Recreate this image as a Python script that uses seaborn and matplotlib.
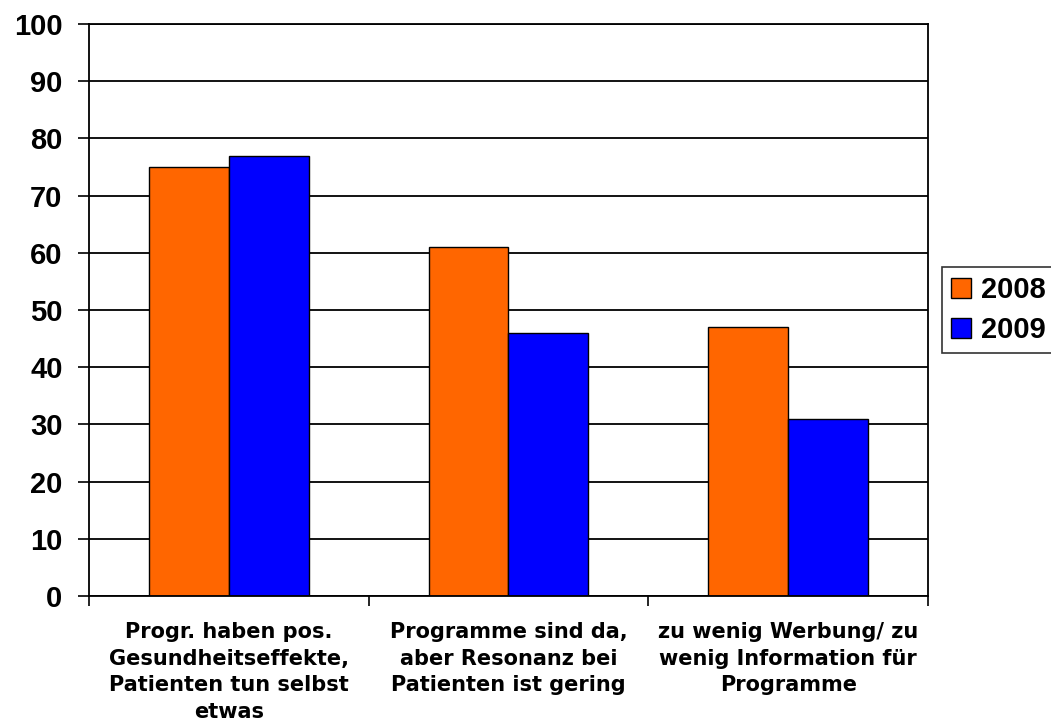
import matplotlib
matplotlib.use("Agg")
import matplotlib.pyplot as plt
import seaborn as sns
import pandas as pd
from matplotlib.ticker import FixedLocator

# Survey answers, share in percent per year
categories = [
    "Progr. haben pos.\nGesundheitseffekte,\nPatienten tun selbst\netwas",
    "Programme sind da,\naber Resonanz bei\nPatienten ist gering",
    "zu wenig Werbung/ zu\nwenig Information für\nProgramme",
]
years = ["2008", "2009"]
values_2008 = [75, 61, 47]
values_2009 = [77, 46, 31]
y_ticks = [0, 10, 20, 30, 40, 50, 60, 70, 80, 90, 100]

colors = {"2008": "#FF6600", "2009": "#0000FF"}

df = pd.DataFrame({
    "Kategorie": categories * 2,
    "Jahr": [years[0]] * len(categories) + [years[1]] * len(categories),
    "Wert": values_2008 + values_2009,
})

sns.set_theme(style="white")
plt.rcParams["font.family"] = ["Liberation Sans", "DejaVu Sans"]
plt.rcParams["text.color"] = "black"
plt.rcParams["xtick.color"] = "black"
plt.rcParams["ytick.color"] = "black"

W, H = 1051, 724
fig = plt.figure(figsize=(W / 100, H / 100), dpi=100)
ax = fig.add_axes([89 / W, 1 - 596 / H, (928 - 89) / W, (596 - 24) / H])

sns.barplot(
    data=df, x="Kategorie", y="Wert", hue="Jahr", order=categories,
    hue_order=years, palette=colors, width=0.572, dodge=True,
    edgecolor="black", linewidth=1.0, saturation=1, ax=ax, legend=True,
)

ax.set_xlim(-0.5, len(categories) - 0.5)
ax.set_ylim(0, 100)
ax.set_xlabel("")
ax.set_ylabel("")

# y axis: bold labels, outward ticks, black grid
ax.set_yticks(y_ticks)
ax.set_yticklabels([str(t) for t in y_ticks], fontsize=21, fontweight="bold",
                   color="black")
ax.tick_params(axis="y", which="major", direction="out", length=8, width=1.2,
               color="black", pad=11, left=True)
ax.yaxis.grid(True, color="black", linewidth=1.3)
ax.set_axisbelow(True)

# x axis: tick marks between groups, labels centred below each group
ax.xaxis.set_minor_locator(FixedLocator([-0.5, 0.5, 1.5, 2.5]))
ax.tick_params(axis="x", which="minor", direction="out", length=7, width=1.2,
               color="black", bottom=True)
ax.tick_params(axis="x", which="major", length=0, pad=19)
for lbl in ax.get_xticklabels():
    lbl.set_fontfamily(["DejaVu Sans"])
    lbl.set_fontsize(15)
    lbl.set_fontweight("bold")
    lbl.set_color("black")
    lbl.set_linespacing(1.4)
    lbl.set_verticalalignment("top")

for side in ["left", "bottom", "right", "top"]:
    ax.spines[side].set_visible(True)
    ax.spines[side].set_color("black")
    ax.spines[side].set_linewidth(1.3)

ax.get_legend().remove()
handles, labels = ax.get_legend_handles_labels()
leg = fig.legend(
    handles, labels, loc="upper left",
    bbox_to_anchor=(942 / W, 1 - 267 / H), borderaxespad=0,
    prop={"size": 21, "weight": "bold"}, frameon=True, fancybox=False,
    edgecolor="black", handlelength=0.7, handleheight=0.68,
    handletextpad=0.35, borderpad=0.3, labelspacing=0.42,
)
leg.get_frame().set_linewidth(1.2)
for h in leg.legend_handles:
    h.set_edgecolor("black")
    h.set_linewidth(1.0)
for t in leg.get_texts():
    t.set_color("black")

fig.savefig("out.png", dpi=100, facecolor="white")
